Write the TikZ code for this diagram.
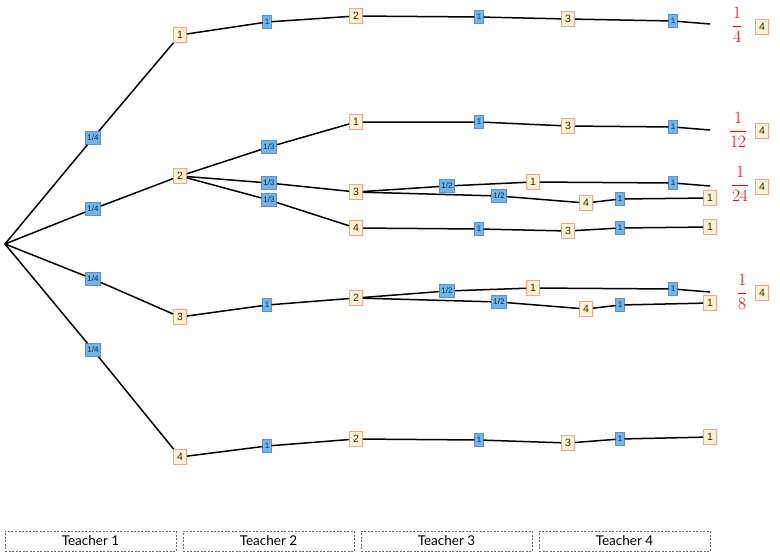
\documentclass[tikz,border=0pt]{standalone}
\usepackage{fontspec}
\usepackage{amsmath}
\usepackage{tikz}
\usetikzlibrary{positioning}
\newfontfamily\boxfont{Liberation Sans}
\newfontfamily\teacherfont{Lato}
\definecolor{cream}{RGB}{255,242,204}
\definecolor{salmon}{RGB}{244,164,146}
\definecolor{sky}{RGB}{108,182,240}
\definecolor{steel}{RGB}{104,140,196}
\definecolor{slate}{RGB}{105,105,105}

\begin{document}
\begin{tikzpicture}[x=1pt, y=-1pt,
  pick/.style={draw=salmon, line width=0.8pt, fill=cream, text=black!85,
               font=\boxfont\fontsize{10.5}{11}\selectfont, inner sep=0pt,
               minimum width=13pt, minimum height=15pt},
  prob/.style={draw=steel, line width=0.6pt, fill=sky, text=black!85,
               font=\boxfont\fontsize{8}{9}\selectfont, inner xsep=2pt,
               inner ysep=0pt, minimum height=13pt},
  edge/.style={line width=1.5pt, black},
  frac/.style={text=red, font=\fontsize{17}{20}\selectfont, inner sep=0pt},
  teacher/.style={draw=slate, dash pattern=on 2pt off 1.5pt, line width=0.6pt,
                  minimum width=171pt, minimum height=20pt, inner sep=0pt,
                  font=\teacherfont\fontsize{13.5}{15}\selectfont}
]
  \useasboundingbox (0,0) rectangle (780,555);

  % teacher 1
  \coordinate (r) at (5,244);
  \node[pick] (a1) at (180,35) {1};
  \node[pick] (a2) at (180,176) {2};
  \node[pick] (a3) at (180,317) {3};
  \node[pick] (a4) at (180,457) {4};
  \node[prob] (pa1) at (93,138) {1/4};
  \node[prob] (pa2) at (93,209) {1/4};
  \node[prob] (pa3) at (93,279) {1/4};
  \node[prob] (pa4) at (93,350) {1/4};

  % teacher 2
  \node[pick] (b1) at (356,16) {2};
  \node[pick] (b2) at (356,122) {1};
  \node[pick] (b3) at (356,192) {3};
  \node[pick] (b4) at (356,228) {4};
  \node[pick] (b5) at (356,298) {2};
  \node[pick] (b6) at (356,439) {2};
  \node[prob] (pb1) at (267,22) {1};
  \node[prob] (pb2) at (269,147) {1/3};
  \node[prob] (pb3) at (269,183) {1/3};
  \node[prob] (pb4) at (269,200) {1/3};
  \node[prob] (pb5) at (267,305) {1};
  \node[prob] (pb6) at (267,446) {1};

  % teacher 3
  \node[pick] (c1) at (568,19) {3};
  \node[pick] (c2) at (568,126) {3};
  \node[pick] (c3) at (533,182) {1};
  \node[pick] (c4) at (586,203) {4};
  \node[pick] (c5) at (568,231) {3};
  \node[pick] (c6) at (533,288) {1};
  \node[pick] (c7) at (586,309) {4};
  \node[pick] (c8) at (568,443) {3};
  \node[prob] (pc1) at (479,17) {1};
  \node[prob] (pc2) at (479,122) {1};
  \node[prob] (pc3) at (447,186) {1/2};
  \node[prob] (pc4) at (499,196) {1/2};
  \node[prob] (pc5) at (479,229) {1};
  \node[prob] (pc6) at (447,291) {1/2};
  \node[prob] (pc7) at (499,302) {1/2};
  \node[prob] (pc8) at (479,440) {1};

  % teacher 4
  \coordinate (d1) at (710,24);
  \coordinate (d2) at (710,130);
  \coordinate (d3) at (710,186);
  \node[pick] (d4) at (710,198) {1};
  \node[pick] (d5) at (710,227) {1};
  \coordinate (d6) at (710,292);
  \node[pick] (d7) at (710,303) {1};
  \node[pick] (d8) at (710,437) {1};
  \node[prob] (pd1) at (673,21) {1};
  \node[prob] (pd2) at (673,127) {1};
  \node[prob] (pd3) at (673,183) {1};
  \node[prob] (pd4) at (620,199) {1};
  \node[prob] (pd5) at (620,228) {1};
  \node[prob] (pd6) at (673,289) {1};
  \node[prob] (pd7) at (620,305) {1};
  \node[prob] (pd8) at (620,439) {1};

  % left-over choices
  \node[frac] (f1) at (737,25) {$\dfrac{1}{4}$};
  \node[frac] (f2) at (738,130) {$\dfrac{1}{12}$};
  \node[frac] (f3) at (740,184) {$\dfrac{1}{24}$};
  \node[frac] (f4) at (742,292) {$\dfrac{1}{8}$};
  \node[pick] (g1) at (762,27) {4};
  \node[pick] (g2) at (762,131) {4};
  \node[pick] (g3) at (762,187) {4};
  \node[pick] (g4) at (762,293) {4};

  \draw[edge] (r) -- (pa1) -- (a1);
  \draw[edge] (r) -- (pa2) -- (a2);
  \draw[edge] (r) -- (pa3) -- (a3);
  \draw[edge] (r) -- (pa4) -- (a4);
  \draw[edge] (a1) -- (pb1) -- (b1);
  \draw[edge] (a2) -- (pb2) -- (b2);
  \draw[edge] (a2) -- (pb3) -- (b3);
  \draw[edge] (a2) -- (pb4) -- (b4);
  \draw[edge] (a3) -- (pb5) -- (b5);
  \draw[edge] (a4) -- (pb6) -- (b6);
  \draw[edge] (b1) -- (pc1) -- (c1);
  \draw[edge] (b2) -- (pc2) -- (c2);
  \draw[edge] (b3) -- (pc3) -- (c3);
  \draw[edge] (b3) -- (pc4) -- (c4);
  \draw[edge] (b4) -- (pc5) -- (c5);
  \draw[edge] (b5) -- (pc6) -- (c6);
  \draw[edge] (b5) -- (pc7) -- (c7);
  \draw[edge] (b6) -- (pc8) -- (c8);
  \draw[edge] (c1) -- (pd1) -- (d1);
  \draw[edge] (c2) -- (pd2) -- (d2);
  \draw[edge] (c3) -- (pd3) -- (d3);
  \draw[edge] (c4) -- (pd4) -- (d4);
  \draw[edge] (c5) -- (pd5) -- (d5);
  \draw[edge] (c6) -- (pd6) -- (d6);
  \draw[edge] (c7) -- (pd7) -- (d7);
  \draw[edge] (c8) -- (pd8) -- (d8);

  \node[teacher] (t1) at (90.5,541) {Teacher 1};
  \node[teacher] (t2) at (268.5,541) {Teacher 2};
  \node[teacher] (t3) at (446.5,541) {Teacher 3};
  \node[teacher] (t4) at (624.5,541) {Teacher 4};
\end{tikzpicture}
\end{document}
